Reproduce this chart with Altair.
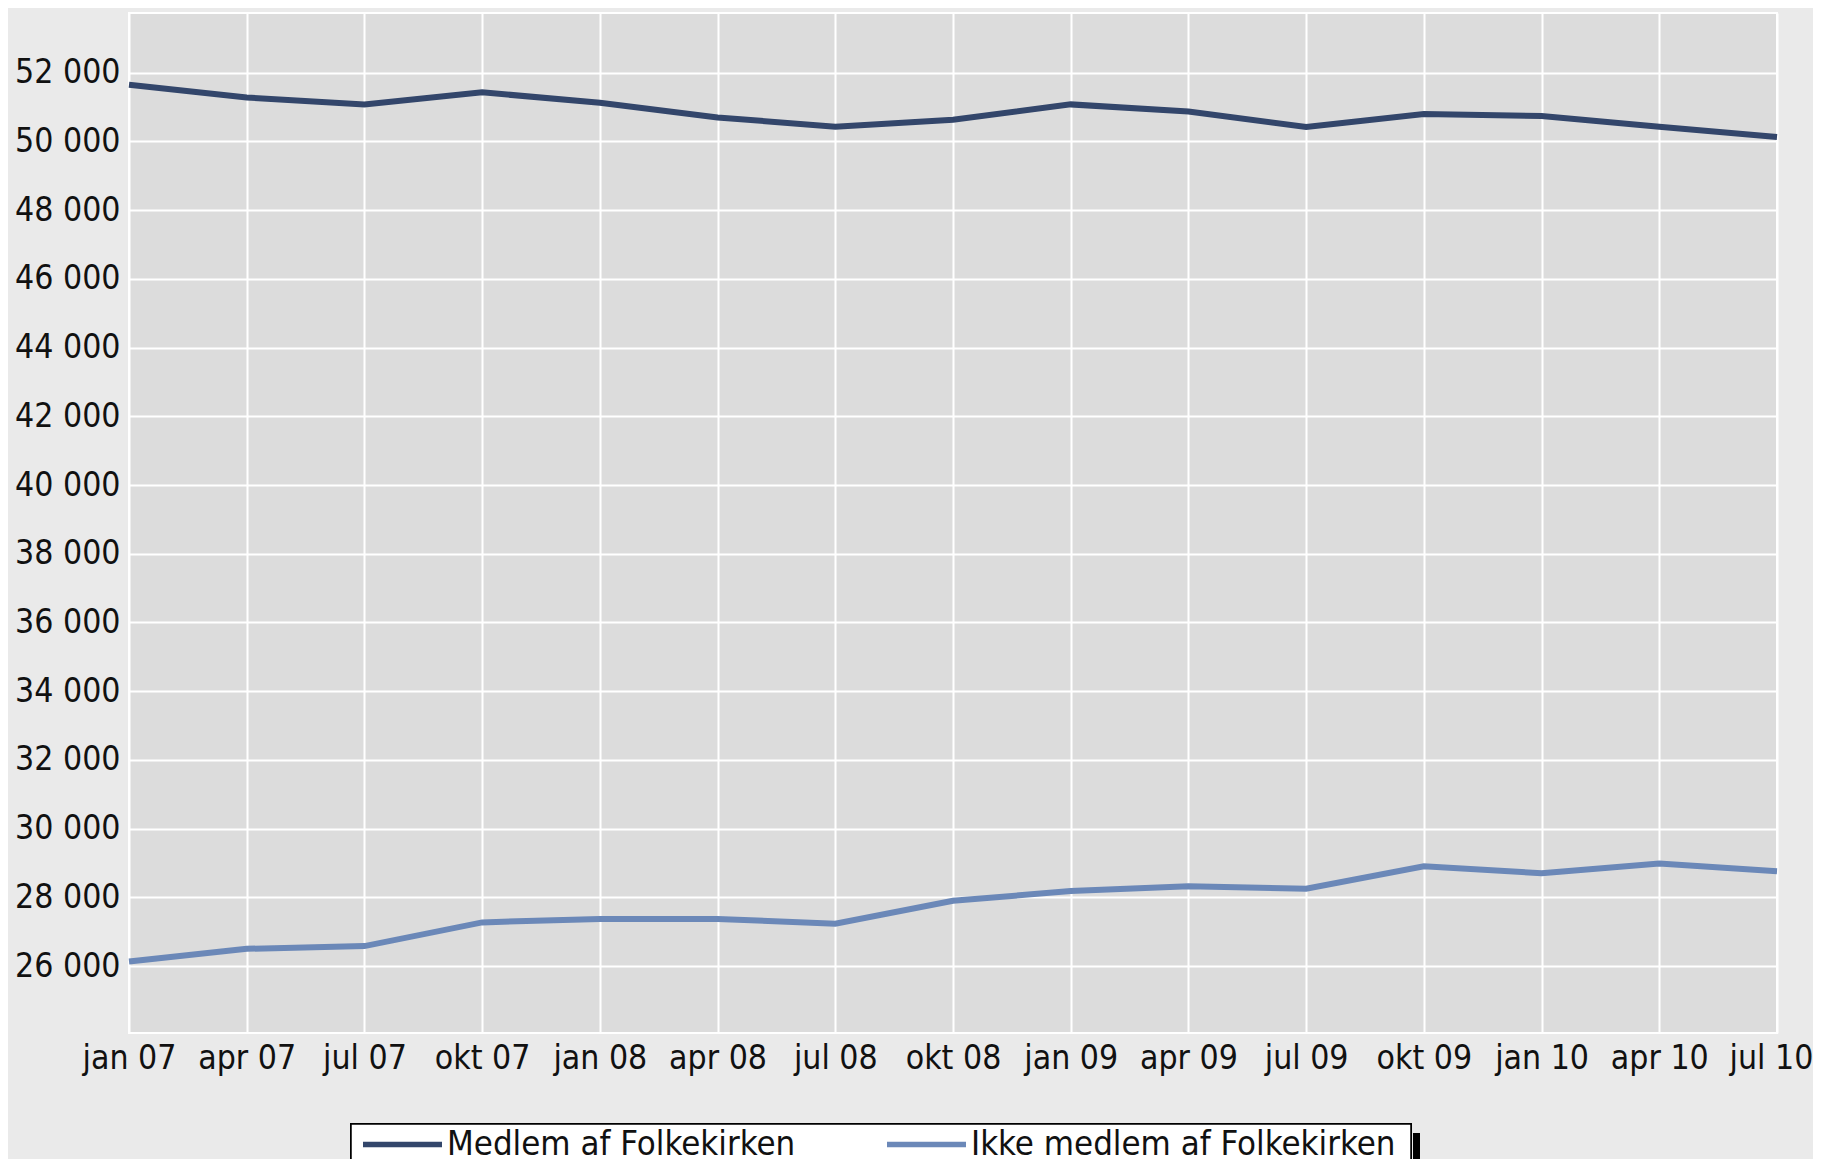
import altair as alt
import pandas as pd

quarters = ["jan 07", "apr 07", "jul 07", "okt 07", "jan 08", "apr 08", "jul 08", "okt 08",
            "jan 09", "apr 09", "jul 09", "okt 09", "jan 10", "apr 10", "jul 10"]
medlem = [51650, 51280, 51080, 51430, 51130, 50700, 50430, 50630,
          51080, 50870, 50420, 50800, 50740, 50430, 50130]
ikke_medlem = [26130, 26500, 26580, 27270, 27370, 27370, 27230, 27900,
               28180, 28320, 28250, 28900, 28700, 28980, 28760]
series_names = ["Medlem af Folkekirken", "Ikke medlem af Folkekirken"]
series_colors = ["#33466b", "#6b88b8"]
y_ticks = list(range(26000, 52001, 2000))

rows = []
for q, v in zip(quarters, medlem):
    rows.append({"kvartal": q, "antal": v, "serie": series_names[0]})
for q, v in zip(quarters, ikke_medlem):
    rows.append({"kvartal": q, "antal": v, "serie": series_names[1]})
df = pd.DataFrame(rows)

FONT = "Liberation Sans Narrow, Arial Narrow, DejaVu Sans Condensed, sans-serif"
FS = 33.5
LFS = 34.5

# legend frame and its drop shadow (decoration, drawn beneath the legend)
legend_shadow = alt.Chart(df).mark_rect(color="black").encode(
    x=alt.value(1284), x2=alt.value(1291), y=alt.value(1120), y2=alt.value(1200)
)
legend_frame = alt.Chart(df).mark_rect(fill="white", stroke="black", strokeWidth=1.5).encode(
    x=alt.value(222), x2=alt.value(1282), y=alt.value(1111), y2=alt.value(1200)
)

last_label = quarters[-1]

lines = alt.Chart(df).mark_line(strokeWidth=6, interpolate="linear").encode(
    x=alt.X("kvartal:O", sort=quarters,
            scale=alt.Scale(type="point", padding=0),
            axis=alt.Axis(title=None, labelAngle=0, ticks=False, domain=False,
                          grid=True, gridColor="white", gridWidth=2,
                          labelFontSize=FS, labelFont=FONT, labelColor="#111111",
                          labelPadding=9,
                          labelOffset={"condition": {"test": f"datum.value == '{last_label}'",
                                                     "value": -6},
                                       "value": 0})),
    y=alt.Y("antal:Q", scale=alt.Scale(domain=[24050, 53740], nice=False, zero=False),
            axis=alt.Axis(title=None, values=y_ticks, ticks=False, domain=False,
                          grid=True, gridColor="white", gridWidth=2,
                          labelFontSize=FS, labelFont=FONT, labelColor="#111111",
                          labelPadding=9,
                          labelExpr="replace(format(datum.value, ','), ',', ' ')")),
    color=alt.Color("serie:N", sort=series_names,
                    scale=alt.Scale(domain=series_names, range=series_colors),
                    legend=alt.Legend(title=None, orient="none", legendX=231, legendY=1089,
                                      direction="horizontal", columns=2,
                                      symbolType="stroke", symbolSize=6241,
                                      symbolStrokeWidth=5.5, labelFontSize=LFS,
                                      labelFont=FONT, labelColor="#111111",
                                      labelLimit=0, labelOffset=2,
                                      columnPadding=80, padding=0)),
)

chart = alt.layer(legend_shadow, legend_frame, lines).properties(
    width=1648, height=1020,
    background="#eaeaea",
    padding={"left": 121, "top": 5, "right": 36, "bottom": 126},
    autosize=alt.AutoSizeParams(type="none"),
).configure_view(fill="#dcdcdc", stroke="white", strokeWidth=2)

chart.save("out.html", embed_options={"renderer": "svg", "actions": False})
